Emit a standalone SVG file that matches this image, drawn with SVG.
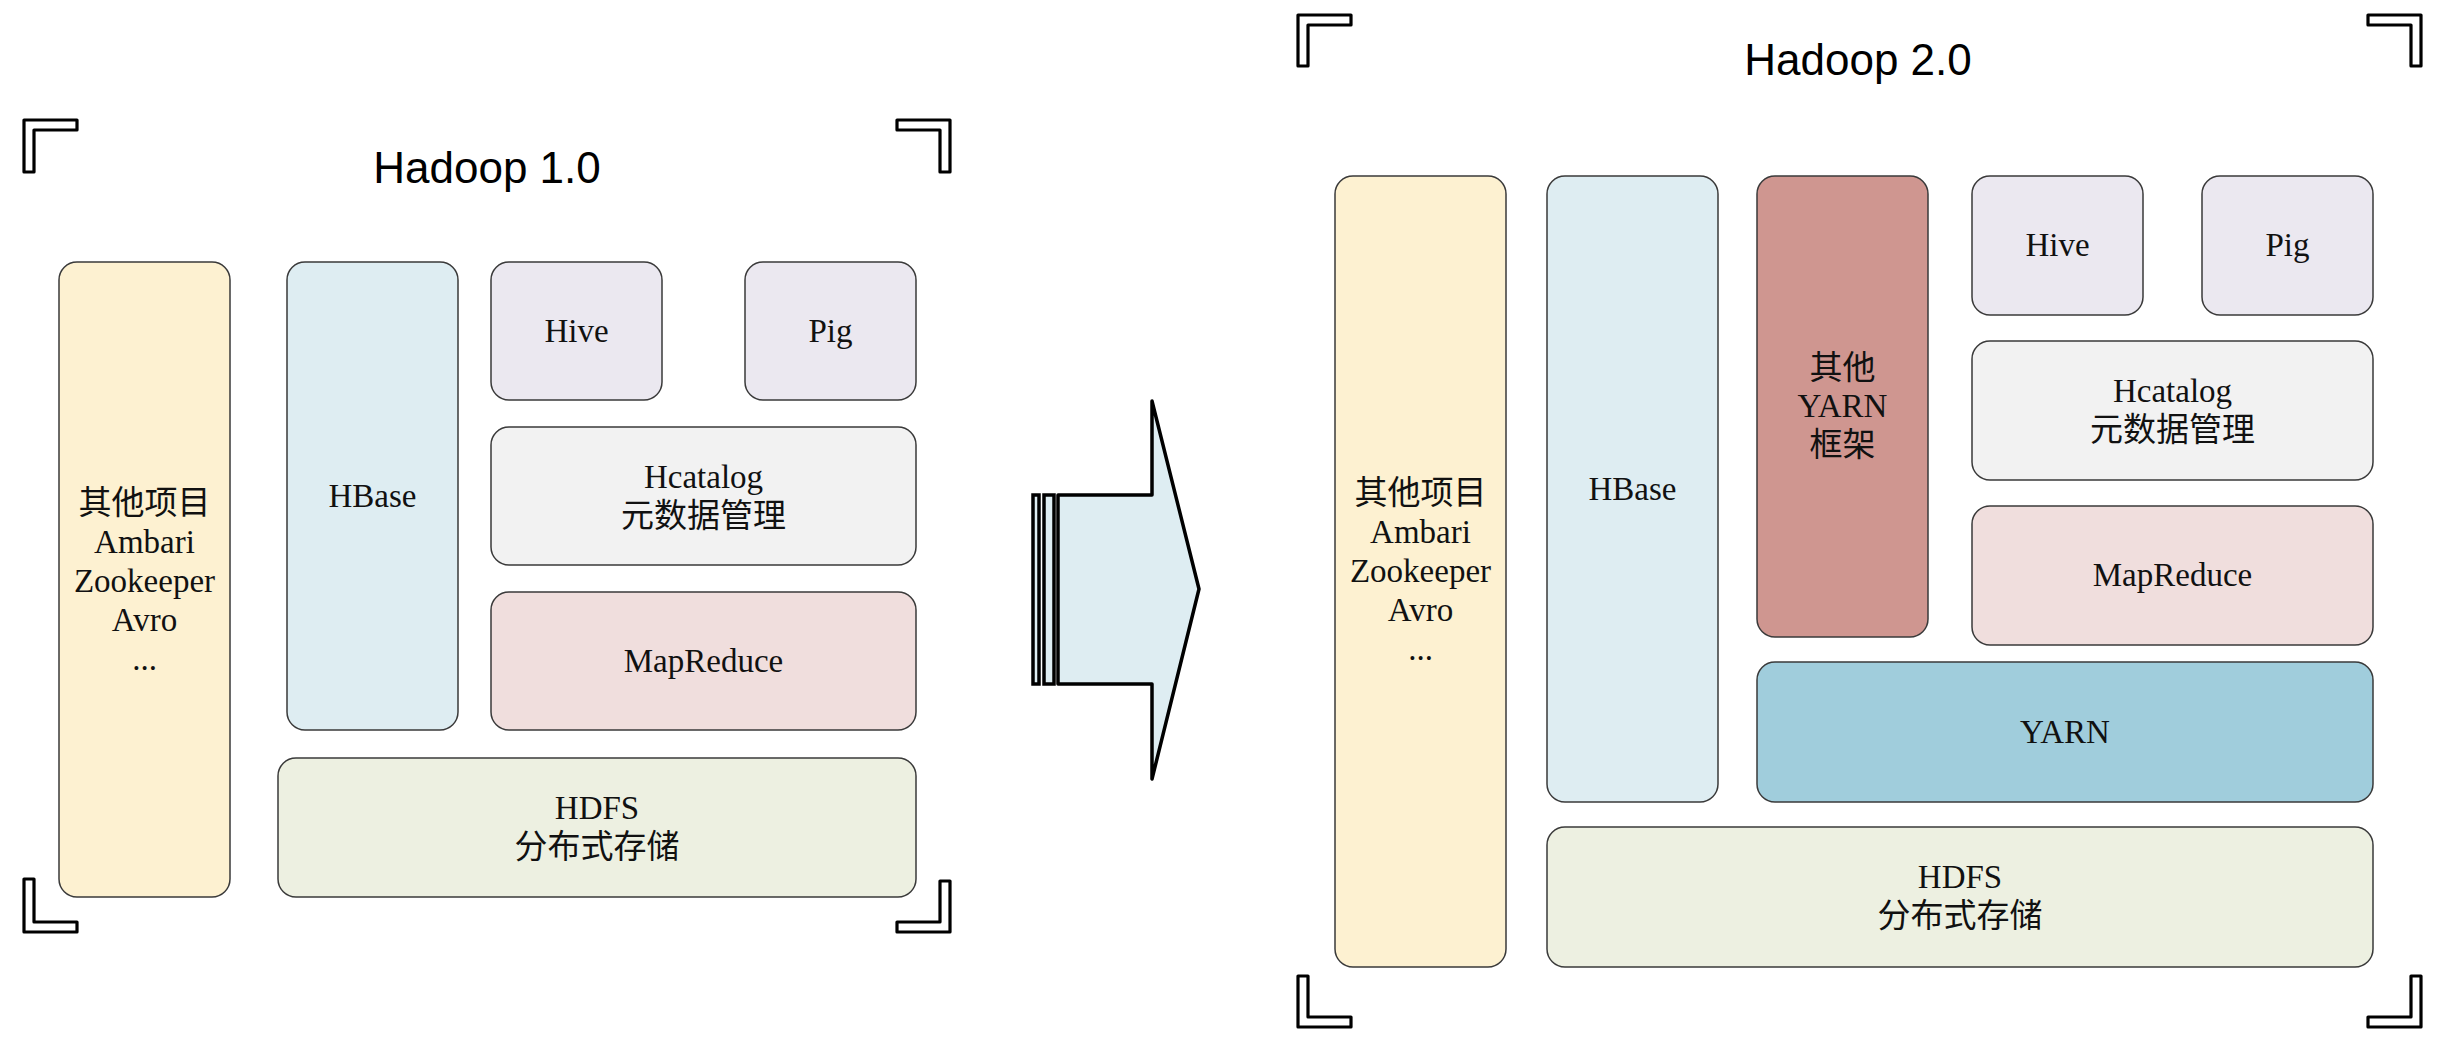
<svg xmlns="http://www.w3.org/2000/svg" width="2442" height="1046" viewBox="0 0 2442 1046">
<style>
.b{stroke:#3a3a3a;stroke-width:1.5}
.t{font-family:"Liberation Serif","Noto Sans CJK SC",serif;font-size:33px;fill:#111;text-anchor:middle;dominant-baseline:central}
.h{font-family:"Liberation Sans",Arial,sans-serif;font-size:44px;fill:#000;text-anchor:middle;dominant-baseline:central}
.br{fill:#fff;stroke:#000;stroke-width:3.2;stroke-linejoin:round}
.yel{fill:#fdf1d1}.blu{fill:#deedf2}.lav{fill:#ebe8f0}.gry{fill:#f2f2f2}.pnk{fill:#f0dedd}.grn{fill:#edf0e1}.yarn{fill:#a0cddc}.red{fill:#cf9690}
</style>
<rect width="2442" height="1046" fill="#fff"/>

<g id="brackets">
<path class="br" d="M24,120 H77 V130 H34 V172 H24 Z"/>
<path class="br" d="M24,879 V932 H77 V922 H34 V879 Z"/>
<path class="br" d="M950,120 H897 V130 H940 V172 H950 Z"/>
<path class="br" d="M950,881 V932 H897 V922 H940 V881 Z"/>
<path class="br" d="M1298,15 H1351 V25 H1308 V66 H1298 Z"/>
<path class="br" d="M1298,976 V1027 H1351 V1017 H1308 V976 Z"/>
<path class="br" d="M2421,15 H2368 V25 H2411 V66 H2421 Z"/>
<path class="br" d="M2421,976 V1027 H2368 V1017 H2411 V976 Z"/>
</g>

<text class="h" x="487" y="167">Hadoop 1.0</text>
<text class="h" x="1858" y="59">Hadoop 2.0</text>

<g id="v1-others">
<rect class="b yel" x="59" y="262" width="171" height="635" rx="18"/>
<text class="t" x="144.5" y="503">其他项目</text>
<text class="t" x="144.5" y="542">Ambari</text>
<text class="t" x="144.5" y="581">Zookeeper</text>
<text class="t" x="144.5" y="620">Avro</text>
<text class="t" x="144.5" y="659">...</text>
</g>
<g id="v1-hbase">
<rect class="b blu" x="287" y="262" width="171" height="468" rx="18"/>
<text class="t" x="372.5" y="496">HBase</text>
</g>
<g id="v1-hive">
<rect class="b lav" x="491" y="262" width="171" height="138" rx="18"/>
<text class="t" x="576.5" y="331">Hive</text>
</g>
<g id="v1-pig">
<rect class="b lav" x="745" y="262" width="171" height="138" rx="18"/>
<text class="t" x="830.5" y="331">Pig</text>
</g>
<g id="v1-hcatalog">
<rect class="b gry" x="491" y="427" width="425" height="138" rx="18"/>
<text class="t" x="703.5" y="477">Hcatalog</text>
<text class="t" x="703.5" y="516">元数据管理</text>
</g>
<g id="v1-mapreduce">
<rect class="b pnk" x="491" y="592" width="425" height="138" rx="18"/>
<text class="t" x="703.5" y="661">MapReduce</text>
</g>
<g id="v1-hdfs">
<rect class="b grn" x="278" y="758" width="638" height="139" rx="18"/>
<text class="t" x="597" y="808">HDFS</text>
<text class="t" x="597" y="847">分布式存储</text>
</g>

<g id="connectors">
<path d="M1058,495 H1152 V401 L1199,589 L1152,779 V684 H1058 Z" fill="#deedf2" stroke="#000" stroke-width="3.5" stroke-linejoin="round"/>
<rect x="1033" y="495" width="6" height="189" fill="#deedf2" stroke="#000" stroke-width="3.5"/>
<rect x="1044" y="495" width="10" height="189" fill="#deedf2" stroke="#000" stroke-width="3.5"/>
</g>

<g id="v2-others">
<rect class="b yel" x="1335" y="176" width="171" height="791" rx="18"/>
<text class="t" x="1420.5" y="493">其他项目</text>
<text class="t" x="1420.5" y="532">Ambari</text>
<text class="t" x="1420.5" y="571">Zookeeper</text>
<text class="t" x="1420.5" y="610">Avro</text>
<text class="t" x="1420.5" y="649">...</text>
</g>
<g id="v2-hbase">
<rect class="b blu" x="1547" y="176" width="171" height="626" rx="18"/>
<text class="t" x="1632.5" y="489">HBase</text>
</g>
<g id="v2-yarnapps">
<rect class="b red" x="1757" y="176" width="171" height="461" rx="18"/>
<text class="t" x="1842.5" y="368">其他</text>
<text class="t" x="1842.5" y="406">YARN</text>
<text class="t" x="1842.5" y="445">框架</text>
</g>
<g id="v2-hive">
<rect class="b lav" x="1972" y="176" width="171" height="139" rx="18"/>
<text class="t" x="2057.5" y="245">Hive</text>
</g>
<g id="v2-pig">
<rect class="b lav" x="2202" y="176" width="171" height="139" rx="18"/>
<text class="t" x="2287.5" y="245">Pig</text>
</g>
<g id="v2-hcatalog">
<rect class="b gry" x="1972" y="341" width="401" height="139" rx="18"/>
<text class="t" x="2172.5" y="391">Hcatalog</text>
<text class="t" x="2172.5" y="430">元数据管理</text>
</g>
<g id="v2-mapreduce">
<rect class="b pnk" x="1972" y="506" width="401" height="139" rx="18"/>
<text class="t" x="2172.5" y="575">MapReduce</text>
</g>
<g id="v2-yarn">
<rect class="b yarn" x="1757" y="662" width="616" height="140" rx="18"/>
<text class="t" x="2065" y="732">YARN</text>
</g>
<g id="v2-hdfs">
<rect class="b grn" x="1547" y="827" width="826" height="140" rx="18"/>
<text class="t" x="1960" y="877">HDFS</text>
<text class="t" x="1960" y="916">分布式存储</text>
</g>
</svg>
